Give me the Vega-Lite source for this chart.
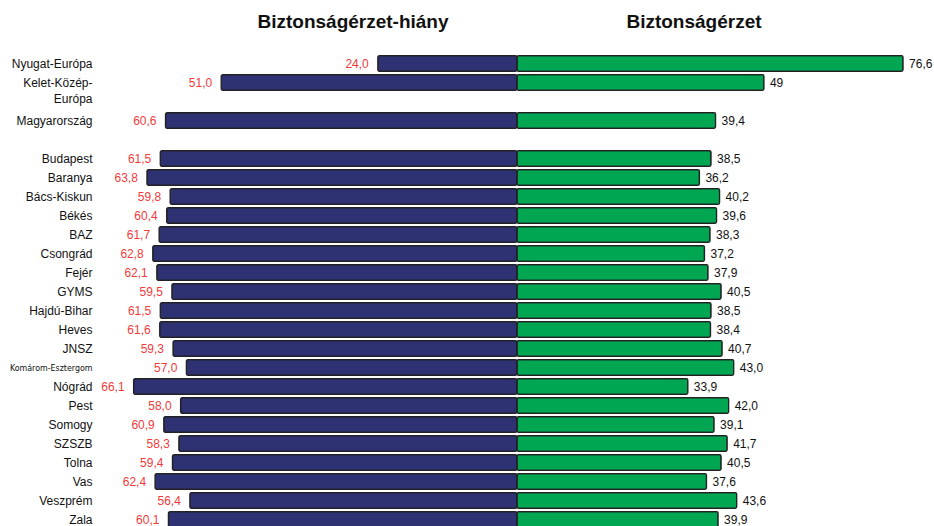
{
  "$schema": "https://vega.github.io/schema/vega-lite/v6.json",
  "padding": {"left": 9, "top": 13, "right": 0, "bottom": 0},
  "autosize": {"type": "pad"},
  "background": "white",
  "spacing": 0,
  "bounds": "flush",
  "config": {
    "view": {"stroke": null},
    "font": "Liberation Sans",
    "title": {"fontSize": 19, "fontWeight": "bold", "color": "#111", "font": "Liberation Sans"}
  },
  "datasets": {
    "rows": [
      {"region": "Nyugat-Európa", "neg": 24.0, "pos": 76.6},
      {"region": "Kelet-Közép-Európa", "neg": 51.0, "pos": 49},
      {"region": "Magyarország", "neg": 60.6, "pos": 39.4},
      {"region": "Budapest", "neg": 61.5, "pos": 38.5},
      {"region": "Baranya", "neg": 63.8, "pos": 36.2},
      {"region": "Bács-Kiskun", "neg": 59.8, "pos": 40.2},
      {"region": "Békés", "neg": 60.4, "pos": 39.6},
      {"region": "BAZ", "neg": 61.7, "pos": 38.3},
      {"region": "Csongrád", "neg": 62.8, "pos": 37.2},
      {"region": "Fejér", "neg": 62.1, "pos": 37.9},
      {"region": "GYMS", "neg": 59.5, "pos": 40.5},
      {"region": "Hajdú-Bihar", "neg": 61.5, "pos": 38.5},
      {"region": "Heves", "neg": 61.6, "pos": 38.4},
      {"region": "JNSZ", "neg": 59.3, "pos": 40.7},
      {"region": "Komárom-Esztergom", "neg": 57.0, "pos": 43.0},
      {"region": "Nógrád", "neg": 66.1, "pos": 33.9},
      {"region": "Pest", "neg": 58.0, "pos": 42.0},
      {"region": "Somogy", "neg": 60.9, "pos": 39.1},
      {"region": "SZSZB", "neg": 58.3, "pos": 41.7},
      {"region": "Tolna", "neg": 59.4, "pos": 40.5},
      {"region": "Vas", "neg": 62.4, "pos": 37.6},
      {"region": "Veszprém", "neg": 56.4, "pos": 43.6},
      {"region": "Zala", "neg": 60.1, "pos": 39.9}
    ]
  },
  "hconcat": [
    {
      "width": 420,
      "height": 475,
      "data": {"name": "rows"},
      "transform": [
        {"calculate": "replace(format(datum.neg, '.1f'), '.', ',')", "as": "negLabel"}
      ],
      "title": {"text": "Biztonságérzet-hiány", "dx": 46, "baseline": "alphabetic", "offset": 7},
      "encoding": {
        "y": {
          "field": "region",
          "type": "nominal",
          "title": null,
          "scale": {
            "domain": ["Nyugat-Európa", "Kelet-Közép-Európa", "gap1", "Magyarország", "gap2", "Budapest", "Baranya", "Bács-Kiskun", "Békés", "BAZ", "Csongrád", "Fejér", "GYMS", "Hajdú-Bihar", "Heves", "JNSZ", "Komárom-Esztergom", "Nógrád", "Pest", "Somogy", "SZSZB", "Tolna", "Vas", "Veszprém", "Zala"],
            "paddingInner": 0.18,
            "paddingOuter": 0.09
          },
          "axis": {
            "domain": false,
            "ticks": false,
            "labelPadding": 5,
            "labelFontSize": {"condition": {"test": "datum.value == 'Komárom-Esztergom'", "value": 8.8}, "value": 12},
            "labelFont": {"condition": {"test": "datum.value == 'Komárom-Esztergom'", "value": "DejaVu Sans Condensed, Liberation Sans"}, "value": "Liberation Sans"},
            "labelLineHeight": 16,
            "labelColor": "#111",
            "labelLimit": 200,
            "labelExpr": "datum.label == 'Kelet-Közép-Európa' ? ['Kelet-Közép-', 'Európa'] : (indexof(datum.label, 'gap') == 0 ? '' : datum.label)"
          }
        }
      },
      "layer": [
        {
          "mark": {"type": "bar", "color": "#2e3172", "stroke": "#222", "strokeWidth": 1.3, "cornerRadius": 1.5},
          "encoding": {
            "x": {"field": "neg", "type": "quantitative", "scale": {"domain": [0, 72.41], "reverse": true, "nice": false, "zero": true}, "axis": null}
          }
        },
        {
          "mark": {"type": "text", "align": "right", "baseline": "middle", "dx": -9, "fontSize": 12, "color": "#f23a3a"},
          "encoding": {
            "x": {"field": "neg", "type": "quantitative"},
            "text": {"field": "negLabel"}
          }
        }
      ]
    },
    {
      "width": 400,
      "height": 475,
      "data": {"name": "rows"},
      "transform": [
        {"calculate": "datum.region == 'Kelet-Közép-Európa' ? '49' : replace(format(datum.pos, '.1f'), '.', ',')", "as": "posLabel"}
      ],
      "title": {"text": "Biztonságérzet", "dx": -23, "baseline": "alphabetic", "offset": 7},
      "encoding": {
        "y": {
          "field": "region",
          "type": "nominal",
          "scale": {
            "domain": ["Nyugat-Európa", "Kelet-Közép-Európa", "gap1", "Magyarország", "gap2", "Budapest", "Baranya", "Bács-Kiskun", "Békés", "BAZ", "Csongrád", "Fejér", "GYMS", "Hajdú-Bihar", "Heves", "JNSZ", "Komárom-Esztergom", "Nógrád", "Pest", "Somogy", "SZSZB", "Tolna", "Vas", "Veszprém", "Zala"],
            "paddingInner": 0.18,
            "paddingOuter": 0.09
          },
          "axis": null
        }
      },
      "layer": [
        {
          "mark": {"type": "bar", "color": "#00a651", "stroke": "#222", "strokeWidth": 1.3, "cornerRadius": 1.5},
          "encoding": {
            "x": {"field": "pos", "type": "quantitative", "scale": {"domain": [0, 79.37], "nice": false, "zero": true}, "axis": null}
          }
        },
        {
          "mark": {"type": "text", "align": "left", "baseline": "middle", "dx": 6, "fontSize": 12, "color": "#111"},
          "encoding": {
            "x": {"field": "pos", "type": "quantitative"},
            "text": {"field": "posLabel"}
          }
        }
      ]
    }
  ]
}
